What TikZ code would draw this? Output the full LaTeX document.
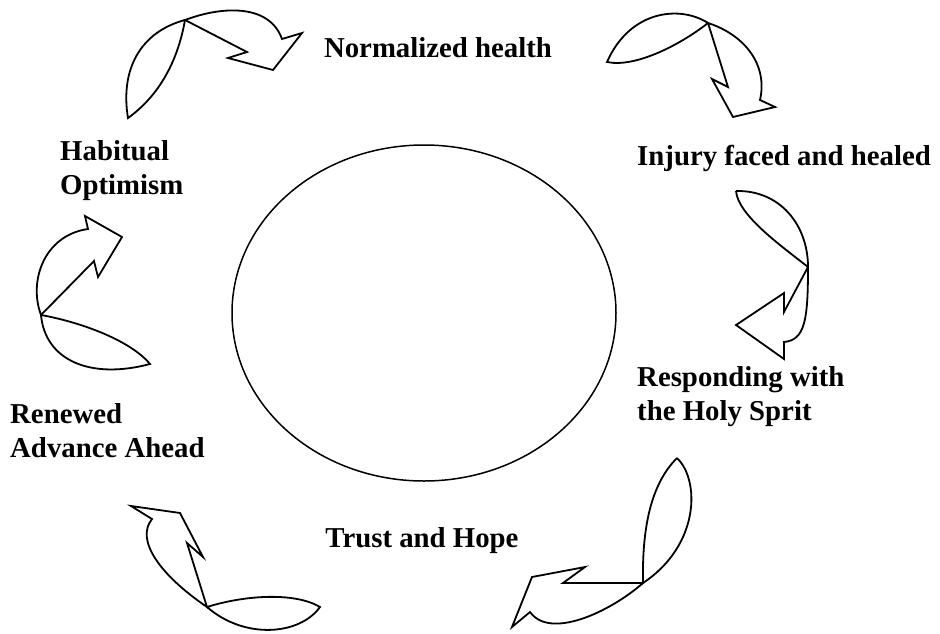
\documentclass[tikz,border=0pt]{standalone}
\usepackage{fontspec}
\setmainfont{Liberation Serif}
\usepackage{tikz}

\tikzset{
  cyclearrow/.style={draw,line width=1.8pt,line join=miter},
  steplabel/.style={font=\fontsize{28.8}{33.5}\selectfont\bfseries,inner sep=0pt,align=left}
}

\begin{document}
\begin{tikzpicture}[x=1pt,y=-1pt]
  \useasboundingbox (0,0) rectangle (940,633);
  % centre circle
  \draw[line width=1.5pt] (424,313) ellipse [x radius=192pt, y radius=168pt];
  % labels of the cycle
  \node[steplabel,anchor=base] (norm) at (438,57) {Normalized health};
  \node[steplabel,anchor=base west] (injury) at (637,165) {Injury faced and healed};
  \node[steplabel,anchor=base west] (spirit) at (637,420) {Responding with\\the Holy Sprit};
  \node[steplabel,anchor=base] (trust) at (422,547) {Trust and Hope};
  \node[steplabel,anchor=base west] (renewed) at (10,457) {Renewed\\Advance Ahead};
  \node[steplabel,anchor=base west] (habit) at (60,194) {Habitual\\Optimism};
  % top left arrow
  \draw[cyclearrow] (185,20) .. controls (140,32) and (120,70) .. (128,118)
    .. controls (160,95) and (178,60) .. (185,20);
  \draw[cyclearrow] (185,20) .. controls (225,5) and (270,5) .. (282,39)
    -- (302,33) -- (273,70) -- (228,58) -- (247,52) -- cycle;
  % top right arrow
  \draw[cyclearrow] (708,23) .. controls (680,5) and (630,10) .. (607,62)
    .. controls (635,68) and (680,45) .. (708,23);
  \draw[cyclearrow] (708,23) .. controls (745,35) and (768,65) .. (760,100)
    -- (775,107) -- (733,117) -- (712,79) -- (728,87) -- cycle;
  % right arrow
  \draw[cyclearrow] (736,191) .. controls (780,190) and (808,225) .. (808,267)
    .. controls (780,245) and (738,215) .. (736,191);
  \draw[cyclearrow] (808,267) .. controls (808,320) and (805,340) .. (784,342)
    -- (784,359) -- (736,325) -- (784,293) -- (784,312) -- cycle;
  % bottom right arrow
  \draw[cyclearrow] (677,458) .. controls (700,480) and (700,545) .. (643,583)
    .. controls (642,530) and (650,485) .. (677,458);
  \draw[cyclearrow] (643,583) .. controls (610,612) and (550,640) .. (530,612)
    -- (512,627) -- (532,577) -- (585,567) -- (563,583) -- cycle;
  % bottom left arrow
  \draw[cyclearrow] (207,607) .. controls (245,595) and (295,592) .. (320,607)
    .. controls (300,635) and (245,640) .. (207,607);
  \draw[cyclearrow] (207,607) .. controls (160,575) and (135,540) .. (152,519)
    -- (131,506) -- (180,513) -- (203,557) -- (187,543) -- cycle;
  % left arrow
  \draw[cyclearrow] (41,315) .. controls (80,322) and (130,340) .. (150,364)
    .. controls (90,380) and (45,360) .. (41,315);
  \draw[cyclearrow] (41,315) .. controls (28,280) and (45,235) .. (88,229)
    -- (85,216) -- (122,237) -- (98,277) -- (94,261) -- cycle;
\end{tikzpicture}
\end{document}
